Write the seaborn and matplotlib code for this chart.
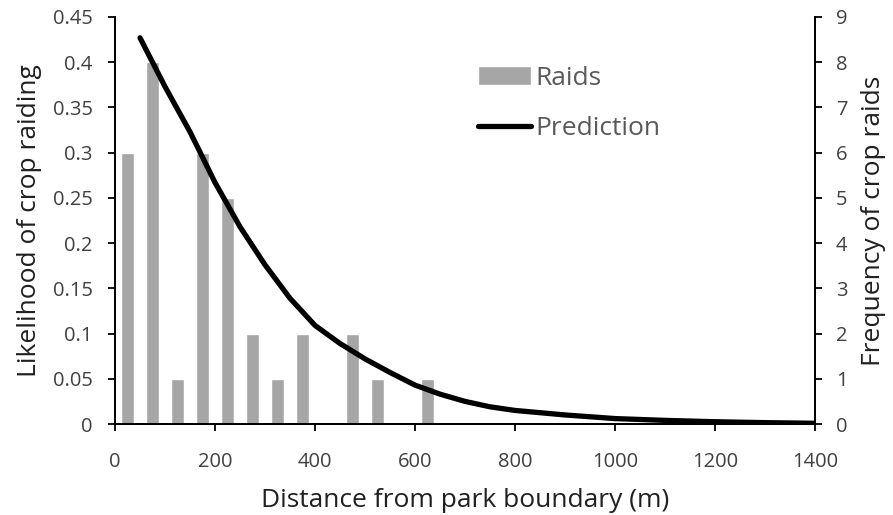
import matplotlib
matplotlib.use("Agg")
import matplotlib.pyplot as plt
import seaborn as sns

# raid counts per 50 m distance band (bar centres)
raid_dist = [25, 75, 125, 175, 225, 275, 325, 375, 475, 525, 625]
raid_freq = [6, 8, 1, 6, 5, 2, 1, 2, 2, 1, 1]

# predicted likelihood of crop raiding
pred_dist = [50, 100, 150, 200, 250, 300, 350, 400, 450, 500, 550, 600, 650,
             700, 750, 800, 900, 1000, 1100, 1200, 1300, 1400]
pred_like = [0.427, 0.373, 0.323, 0.267, 0.218, 0.176, 0.139, 0.109, 0.089,
             0.072, 0.057, 0.043, 0.033, 0.025, 0.019, 0.015, 0.010, 0.006,
             0.004, 0.0025, 0.0015, 0.0008]

left_ticks = [0, 0.05, 0.1, 0.15, 0.2, 0.25, 0.3, 0.35, 0.4, 0.45]
left_labels = ["0", "0.05", "0.1", "0.15", "0.2", "0.25", "0.3", "0.35", "0.4", "0.45"]

sns.set_theme(style="white")
plt.rcParams["font.family"] = ["Open Sans", "DejaVu Sans"]

fig = plt.figure(figsize=(8.93, 5.15), dpi=100)
ax = fig.add_axes([115 / 893, 91 / 515, 700 / 893, 407 / 515])
ax2 = ax.twinx()

# bars on the frequency axis, drawn underneath the prediction curve
sns.barplot(x=raid_dist, y=raid_freq, native_scale=True, width=0.5,
            color="#a6a6a6", saturation=1, ax=ax2, label="Raids")
sns.lineplot(x=pred_dist, y=pred_like, color="black", lw=3.8, ax=ax,
             label="Prediction", solid_capstyle="round", solid_joinstyle="round")
ax.set_zorder(ax2.get_zorder() + 1)
ax.patch.set_visible(False)

ax.set_xlim(0, 1400)
ax.set_ylim(0, 0.45)
ax2.set_ylim(0, 9)
ax.set_xticks(range(0, 1401, 200))
ax.set_yticks(left_ticks)
ax.set_yticklabels(left_labels)
ax2.set_yticks(range(0, 10))

tick_col = "#404040"
for a in (ax, ax2):
    for s in a.spines.values():
        s.set_color("black")
        s.set_linewidth(1.3)
    a.spines["top"].set_visible(False)
    a.tick_params(length=5, width=1.3, color="black", labelsize=14.5,
                  labelcolor=tick_col, direction="out")
ax.tick_params(axis="y", left=True, pad=11)
ax.tick_params(axis="x", bottom=True, pad=15)
ax2.tick_params(axis="y", right=True, pad=10)

ax.set_xlabel("Distance from park boundary (m)", fontsize=19, color="#202020", labelpad=12)
ax.set_ylabel("Likelihood of crop raiding", fontsize=19, color="#202020", labelpad=8)
ax2.set_ylabel("Frequency of crop raids", fontsize=19, color="#202020", labelpad=10)

h1, l1 = ax2.get_legend_handles_labels()
h2, l2 = ax.get_legend_handles_labels()
if ax.get_legend():
    ax.get_legend().remove()
if ax2.get_legend():
    ax2.get_legend().remove()
leg = ax.legend(h1 + h2, l1 + l2, loc="upper left",
                bbox_to_anchor=(454 / 893, 1 - 42 / 515),
                bbox_transform=fig.transFigure, frameon=False, fontsize=19,
                handlelength=2.0, handletextpad=0.2, labelspacing=0.95)
for t in leg.get_texts():
    t.set_color("#595959")

fig.savefig("out.png", dpi=100)
